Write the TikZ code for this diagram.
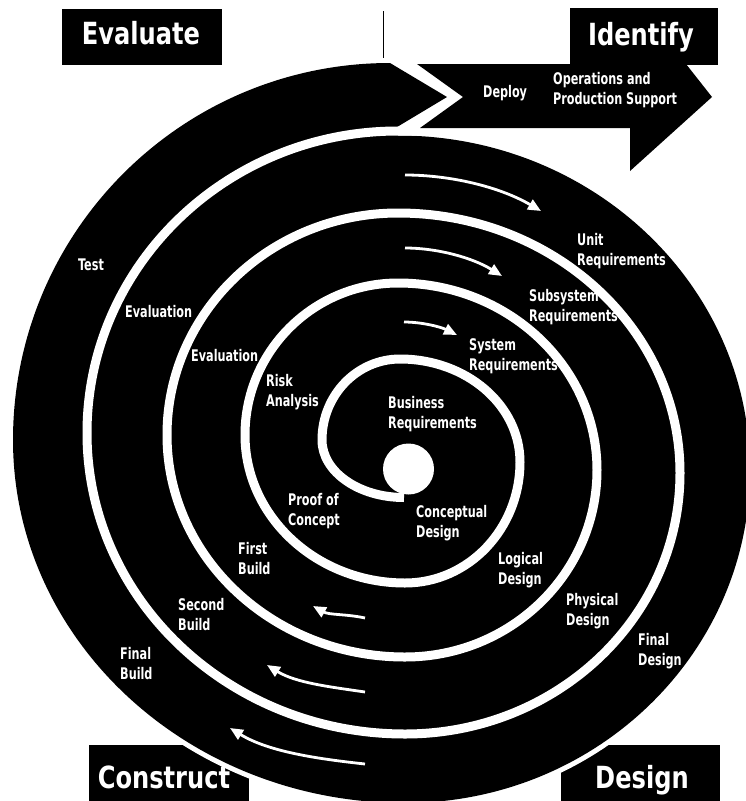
\documentclass[tikz,border=0pt]{standalone}
\usepackage{fontspec}
\usetikzlibrary{arrows.meta}
\newfontfamily\titlefont[FakeStretch=0.88]{DejaVu Sans Condensed Bold}
\newfontfamily\labelfont[FakeStretch=0.78]{DejaVu Sans Condensed Bold}
\begin{document}
\begin{tikzpicture}[x=1pt,y=-1pt]
\tikzset{
  phasebox/.style={fill=black, inner sep=0, draw=none},
  phase/.style={font=\titlefont\fontsize{30.5}{30}\selectfont, text=white, inner sep=0, anchor=base},
  lbl/.style={font=\labelfont\fontsize{16}{20}\selectfont, text=white, align=left, anchor=west, inner sep=0},
  flow/.style={white, line width=2.8pt, -{Triangle[length=13pt,width=11pt]}},
  spiralline/.style={white, line width=9pt},
  gapband/.style={white, line width=10pt},
}
\useasboundingbox (0,0) rectangle (745,801);

% phase boxes
\node[phasebox, minimum width=160pt, minimum height=56pt] (evalbox) at (142,37) {};
\node[phasebox, minimum width=148pt, minimum height=57pt] (identbox) at (644,36.5) {};
\node[phasebox, minimum width=160pt, minimum height=65pt] (constbox) at (169,777.5) {};
\node[phasebox, minimum width=159pt, minimum height=65pt] (designbox) at (640.5,777.5) {};

% thin tick at the top
\coordinate (ticktop) at (383,11);
\coordinate (tickbot) at (383,58);
\draw[line width=0.8pt] (ticktop) -- (tickbot);

% white margin where the spiral passes over the lower boxes
\draw[gapband] (750,470)
  arc[start angle=0,end angle=90,x radius=345,y radius=333]
  arc[start angle=90,end angle=180,x radius=392,y radius=363];

% black spiral body, ending in a chevron at the top
\fill[black] (398,135.5)
  arc[start angle=270,end angle=360,x radius=352,y radius=334.5]
  arc[start angle=0,end angle=90,x radius=345,y radius=333]
  arc[start angle=90,end angle=180,x radius=392,y radius=363]
  arc[start angle=180,end angle=270,x radius=377,y radius=377]
  -- (447,97) -- (397,127) -- cycle;

% white spiral line from the centre outwards
\draw[spiralline] (404,497.5)
  arc[start angle=90,end angle=180,x radius=82,y radius=57.5]
  arc[start angle=180,end angle=270,x radius=78,y radius=81]
  arc[start angle=270,end angle=360,x radius=120,y radius=103]
  arc[start angle=0,end angle=90,x radius=115,y radius=121]
  arc[start angle=90,end angle=180,x radius=160,y radius=148]
  arc[start angle=180,end angle=270,x radius=153,y radius=152]
  arc[start angle=270,end angle=360,x radius=199,y radius=187]
  arc[start angle=0,end angle=90,x radius=192,y radius=187]
  arc[start angle=90,end angle=180,x radius=238,y radius=222]
  arc[start angle=180,end angle=270,x radius=231,y radius=222]
  arc[start angle=270,end angle=360,x radius=282,y radius=260]
  arc[start angle=0,end angle=90,x radius=275,y radius=261]
  arc[start angle=90,end angle=180,x radius=318,y radius=301]
  arc[start angle=180,end angle=270,x radius=311,y radius=302]
  -- ++(25,0);

% centre disc
\fill[white] (408.5,469) circle[radius=25.5];

% deployment arrow with notched tail
\fill[black] (417,64) -- (686,64) -- (712,97) -- (630,171) -- (630,128)
  -- (420,128) -- (463,97) -- cycle;

% direction arrows, upper half (clockwise)
\coordinate (a1s) at (405,175); \coordinate (a1e) at (541,211);
\coordinate (a2s) at (405,248); \coordinate (a2e) at (502,276);
\coordinate (a3s) at (404,322); \coordinate (a3e) at (457,335);
\draw[flow] (a1s) .. controls (451,175) and (500,187) .. (a1e);
\draw[flow] (a2s) .. controls (438,248) and (473,258) .. (a2e);
\draw[flow] (a3s) .. controls (422,322) and (441,327) .. (a3e);

% direction arrows, lower half
\coordinate (b1s) at (365,618); \coordinate (b1e) at (313,606);
\coordinate (b2s) at (365,692); \coordinate (b2e) at (267,665);
\coordinate (b3s) at (365,764); \coordinate (b3e) at (230,728);
\draw[flow] (b1s) .. controls (347,614) and (329,615) .. (b1e);
\draw[flow] (b2s) .. controls (331,687) and (296,683) .. (b2e);
\draw[flow] (b3s) .. controls (319,759) and (269,752) .. (b3e);

% phase titles
\node[phase] (tEval) at (141,44) {Evaluate};
\node[phase] (tIdent) at (641,45) {Identify};
\node[phase] (tConst) at (164,788) {Construct};
\node[phase] (tDesign) at (642,788) {Design};

% activity labels
\node[lbl] (deploy) at (483,93) {Deploy};
\node[lbl] (ops) at (553,90) {Operations and\\Production Support};
\node[lbl] (unitreq) at (577,251) {Unit\\Requirements};
\node[lbl] (subreq) at (529,307) {Subsystem\\Requirements};
\node[lbl] (sysreq) at (469,356) {System\\Requirements};
\node[lbl] (busreq) at (388,414) {Business\\Requirements};
\node[lbl] (concdes) at (416,523) {Conceptual\\Design};
\node[lbl] (logdes) at (498,570) {Logical\\Design};
\node[lbl] (physdes) at (566,611) {Physical\\Design};
\node[lbl] (findes) at (638,651) {Final\\Design};
\node[lbl] (test) at (78,265) {Test};
\node[lbl] (eval1) at (125,312) {Evaluation};
\node[lbl] (eval2) at (191,356) {Evaluation};
\node[lbl] (risk) at (266,392) {Risk\\Analysis};
\node[lbl] (proof) at (288,511) {Proof of\\Concept};
\node[lbl] (build1) at (238,559) {First\\Build};
\node[lbl] (build2) at (178,615) {Second\\Build};
\node[lbl] (build3) at (120,664) {Final\\Build};
\end{tikzpicture}
\end{document}
